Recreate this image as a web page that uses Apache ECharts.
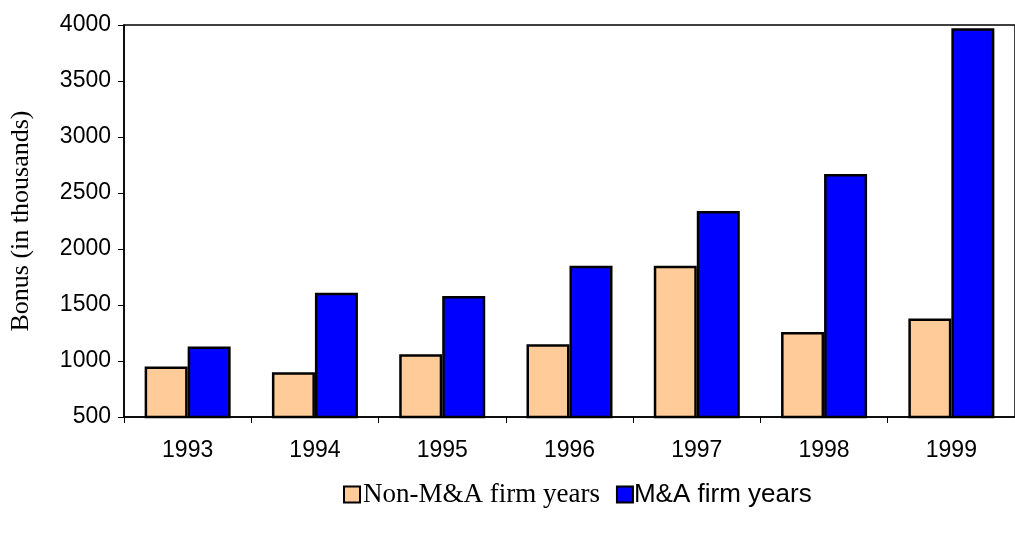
<!DOCTYPE html>
<html>
<head>
<meta charset="utf-8">
<script src="https://cdn.jsdelivr.net/npm/echarts@6/dist/echarts.min.js"></script>
<style>html,body{margin:0;padding:0;background:#fff}#c{width:1015px;height:533px}</style>
</head>
<body>
<div id="c"></div>
<script>
var categories = ['1993', '1994', '1995', '1996', '1997', '1998', '1999'];
var nonMA = [950, 900, 1060, 1150, 1850, 1260, 1380];
var MA = [1130, 1610, 1580, 1850, 2340, 2670, 3970];
var seriesNames = ['Non-M&A firm years', 'M&A firm years'];
var yTicks = {min: 500, max: 4000, interval: 500};

var chart = echarts.init(document.getElementById('c'));
chart.setOption({
  animation: false,
  backgroundColor: '#fff',
  grid: {left: 120, top: 25, width: 896, height: 392, show: true, borderColor: '#000', borderWidth: 1.5, backgroundColor: 'transparent'},
  legend: {
    left: 338, top: 476, itemWidth: 16, itemHeight: 16, itemGap: 16,
    icon: 'rect',
    data: [
      {name: seriesNames[0], textStyle: {fontFamily: 'Liberation Serif', fontSize: 27, color: '#000', padding: [0, 0, 0, -2]}},
      {name: seriesNames[1], textStyle: {fontFamily: 'Liberation Sans', fontSize: 26, color: '#000', padding: [0, 0, 0, -4]}}
    ]
  },
  xAxis: {
    type: 'category', data: categories,
    axisLine: {lineStyle: {color: '#000', width: 1.5}},
    axisTick: {show: true, length: 6, alignWithLabel: false, lineStyle: {color: '#000'}},
    axisLabel: {color: '#000', fontFamily: 'Liberation Sans', fontSize: 23, margin: 22}
  },
  yAxis: {
    type: 'value', min: yTicks.min, max: yTicks.max, interval: yTicks.interval,
    name: 'Bonus (in thousands)', nameLocation: 'middle', nameGap: 90, nameRotate: 90,
    nameTextStyle: {fontFamily: 'Liberation Serif', fontSize: 26, color: '#000'},
    axisLine: {show: true, lineStyle: {color: '#000', width: 1.5}},
    axisTick: {show: true, inside: false, length: 6, lineStyle: {color: '#000'}},
    splitLine: {show: false},
    axisLabel: {color: '#000', fontFamily: 'Liberation Sans', fontSize: 23, margin: 13,
      formatter: function (v) { return String(v); }}
  },
  series: [
    {name: seriesNames[0], type: 'bar', data: nonMA, barWidth: 43, barGap: '0%',
     itemStyle: {color: '#FFCC99', borderColor: '#000', borderWidth: 2.5}},
    {name: seriesNames[1], type: 'bar', data: MA, barWidth: 43, barGap: '0%',
     itemStyle: {color: '#0000FF', borderColor: '#000', borderWidth: 2.5}}
  ]
});
</script>
</body>
</html>
